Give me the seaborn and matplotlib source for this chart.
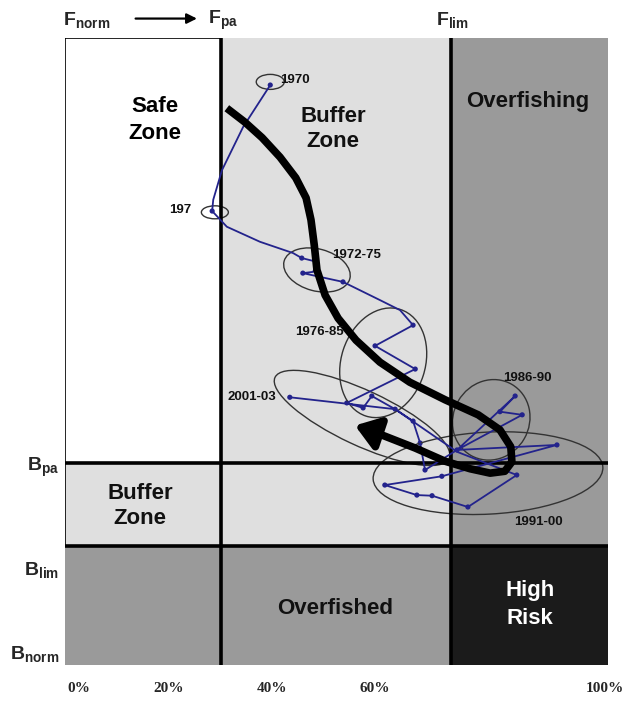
import matplotlib
matplotlib.use("Agg")
import matplotlib.pyplot as plt
import matplotlib.transforms as mtransforms
from matplotlib.patches import Ellipse
import pandas as pd
import seaborn as sns

# -------------------------------
# Reference points (% of scale)
# -------------------------------
F_pa, F_lim = 28.7, 71.1
B_pa, B_lim = 32.2, 19.0

# stock trajectory (line path)
traj_x = [37.8, 32.8, 28.9, 27.3, 27.1, 29.8, 35.9, 42.0, 43.6, 46.4, 45.7, 43.8, 51.2,
          58.0, 61.7, 64.1, 57.1, 64.5, 51.9, 54.9, 56.5, 60.8, 64.1, 65.4, 66.3,
          72.2, 82.9, 80.1, 84.2, 72.2, 90.6, 69.4, 58.9, 64.8, 67.6, 74.2, 83.2,
          72.2, 60.8, 41.4]
traj_y = [92.5, 85.8, 78.9, 74.2, 72.4, 69.9, 67.5, 65.7, 64.9, 64.3, 62.7, 62.5, 61.1,
          58.2, 56.6, 54.2, 50.9, 47.2, 41.8, 41.0, 42.9, 40.8, 38.9, 35.4, 31.1,
          34.3, 42.9, 40.4, 39.9, 34.3, 35.1, 30.1, 28.7, 27.1, 27.0, 25.2, 30.3,
          34.0, 40.8, 42.7]

# yearly observations (dots)
obs_x = [37.8, 27.1, 43.6, 43.8, 51.2, 64.1, 57.1, 64.5, 51.9, 54.9, 56.5, 60.8, 64.1,
         65.4, 66.3, 72.2, 82.9, 80.1, 84.2, 90.6, 69.4, 58.9, 64.8, 67.6, 74.2,
         83.2, 41.4]
obs_y = [92.5, 72.4, 64.9, 62.5, 61.1, 54.2, 50.9, 47.2, 41.8, 41.0, 42.9, 40.8, 38.9,
         35.4, 31.1, 34.3, 42.9, 40.4, 39.9, 35.1, 30.1, 28.7, 27.1, 27.0, 25.2,
         30.3, 42.7]

# general trend (thick black arrow)
trend_x = [29.8, 33.1, 36.3, 39.6, 42.5, 44.4, 45.3, 45.9, 46.4, 47.9, 50.3, 53.6,
           58.0, 63.5, 70.0, 76.1, 80.1, 82.1, 82.3, 81.0, 78.3, 74.6, 70.0, 64.5,
           58.9, 56.5]
trend_y = [88.8, 86.6, 84.1, 81.0, 77.7, 74.5, 71.0, 67.0, 63.0, 59.0, 55.3, 51.8,
           48.3, 45.1, 42.3, 39.9, 37.5, 34.8, 32.4, 30.9, 30.6, 31.3, 32.5, 34.6,
           36.5, 37.3]
trend_tip = (53.4, 38.2)

# period groups: label, centre x, centre y
periods = ["1970", "197", "1972-75", "1976-85", "2001-03", "1986-90", "1991-00"]
period_cx = [37.8, 27.6, 46.4, 58.6, 54.7, 78.5, 77.9]
period_cy = [93.0, 72.2, 63.0, 48.2, 39.4, 39.1, 30.6]

tick_labels = ["0%", "20%", "40%", "60%", "100%"]
tick_pos = [2.6, 19.0, 38.1, 57.1, 99.4]

traj = pd.DataFrame({"F": traj_x, "B": traj_y})
obs = pd.DataFrame({"F": obs_x, "B": obs_y})
trend = pd.DataFrame({"F": trend_x, "B": trend_y})

sns.set_style("white")
plt.rcParams['font.family'] = ['Liberation Sans', 'DejaVu Sans']
plt.rcParams['mathtext.fontset'] = 'custom'
plt.rcParams['mathtext.rm'] = 'Liberation Sans:bold'
plt.rcParams['mathtext.bf'] = 'Liberation Sans:bold'
plt.rcParams['mathtext.it'] = 'Liberation Sans:bold'

fig = plt.figure(figsize=(6.25, 7.02), dpi=100)
ax = fig.add_axes([65 / 625, 37 / 702, 543 / 625, 627 / 702])
ax.set_xlim(0, 100)
ax.set_ylim(0, 100)

# -------------------------------
# Zones
# -------------------------------
light, mid, dark = "#dfdfdf", "#9a9a9a", "#1b1b1b"
ax.fill_between([F_pa, F_lim], B_pa, 100, color=light, lw=0)
ax.fill_between([0, F_lim], B_lim, B_pa, color=light, lw=0)
ax.fill_between([F_lim, 100], B_lim, 100, color=mid, lw=0)
ax.fill_between([0, F_lim], 0, B_lim, color=mid, lw=0)
ax.fill_between([F_lim, 100], 0, B_lim, color=dark, lw=0)

ax.plot([0, 0], [B_lim, 100], color="black", lw=1.2)
ax.plot([0, F_pa], [100, 100], color="black", lw=1.2)
ax.axvline(F_pa, color="black", lw=2.6)
ax.axvline(F_lim, color="black", lw=2.6)
ax.axhline(B_pa, color="black", lw=2.6)
ax.axhline(B_lim, color="black", lw=2.6)

zone_kw = dict(fontsize=16, fontweight="bold", ha="center", va="center")
ax.text(16.6, 86.9, "Safe\nZone", color="black", linespacing=1.35, **zone_kw)
ax.text(49.4, 85.5, "Buffer\nZone", color="#111111", linespacing=1.3, **zone_kw)
ax.text(85.2, 89.8, "Overfishing", color="#111111", **zone_kw)
ax.text(13.8, 25.4, "Buffer\nZone", color="#111111", linespacing=1.22, **zone_kw)
ax.text(49.7, 9.0, "Overfished", color="#111111", **zone_kw)
ax.text(85.7, 9.7, "High\nRisk", color="white", linespacing=1.42, **zone_kw)

# -------------------------------
# Trajectory and groups
# -------------------------------
sns.lineplot(data=traj, x="F", y="B", sort=False, estimator=None, color="#23238c",
             lw=1.3, ax=ax)
sns.scatterplot(data=obs, x="F", y="B", color="#23238c", s=14, edgecolor="none", ax=ax)

ring_size = [(28, 15, 0), (27, 13, 0), (68, 42, -15), (112, 84, 72),
             (192, 55, -25), (82, 76, 60), (230, 82, 3)]
for cx, cy, (w, h, a) in zip(period_cx, period_cy, ring_size):
    tr = mtransforms.Affine2D().scale(100 / 543, 100 / 627).translate(cx, cy) + ax.transData
    ax.add_patch(Ellipse((0, 0), w, h, angle=a, fill=False, ec="#333333", lw=1.0,
                         transform=tr))

lab_kw = dict(fontsize=9.5, fontweight="bold", va="center", color="#111111")
lab_pos = [(39.6, 93.3, "left"), (23.2, 72.6, "right"), (49.2, 65.4, "left"),
           (42.4, 53.1, "left"), (38.9, 42.7, "right"), (80.7, 45.8, "left"),
           (82.8, 22.8, "left")]
for name, (lx, ly, ha) in zip(periods, lab_pos):
    ax.text(lx, ly, name, ha=ha, **lab_kw)

sns.lineplot(data=trend, x="F", y="B", sort=False, estimator=None, color="black",
             lw=5.5, ax=ax, solid_capstyle="butt", solid_joinstyle="round")
ax.annotate("", xy=trend_tip, xytext=(trend_x[-1], trend_y[-1]),
            arrowprops=dict(arrowstyle="-|>,head_length=1.0,head_width=0.7",
                            color="black", lw=5.5, shrinkA=0, shrinkB=0,
                            mutation_scale=14))

# -------------------------------
# Axis labels
# -------------------------------
sns.despine(ax=ax, left=True, bottom=True)
ax.set_xlabel("")
ax.set_ylabel("")
ax.set_xticks(tick_pos)
ax.set_xticklabels(tick_labels, family="Liberation Serif", fontweight="bold", fontsize=11)
ax.set_yticks([B_pa, 15.5, 2.1])
ax.set_yticklabels([r"$\mathrm{B}_{\mathrm{pa}}$", r"$\mathrm{B}_{\mathrm{lim}}$",
                    r"$\mathrm{B}_{\mathrm{norm}}$"], fontsize=14)
ax.tick_params(axis="x", length=0, pad=12)
ax.tick_params(axis="y", length=0, pad=4)

top_kw = dict(fontsize=14, va="center", clip_on=False)
ax.text(-0.3, 102.8, r"$\mathrm{F}_{\mathrm{norm}}$", ha="left", **top_kw)
ax.text(26.3, 102.8, r"$\mathrm{F}_{\mathrm{pa}}$", ha="left", **top_kw)
ax.text(68.3, 102.8, r"$\mathrm{F}_{\mathrm{lim}}$", ha="left", **top_kw)
ax.annotate("", xy=(24.3, 103.1), xytext=(13.0, 103.1), annotation_clip=False,
            arrowprops=dict(arrowstyle="-|>,head_length=0.5,head_width=0.25",
                            color="black", lw=1.6, shrinkA=0, shrinkB=0,
                            mutation_scale=12))

fig.savefig("out.png", dpi=100)
